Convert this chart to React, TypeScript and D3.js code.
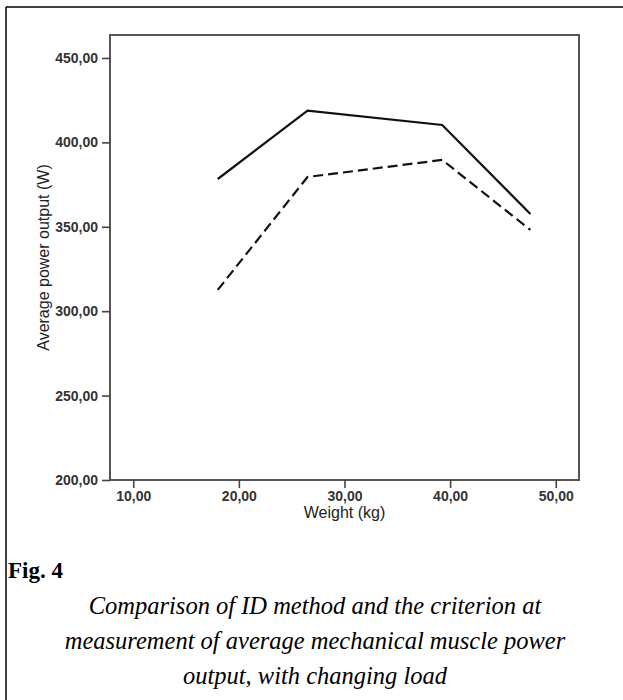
import React, { useEffect, useRef } from "react";
import * as d3 from "d3";

const weights = [18.0, 26.5, 39.25, 47.6];
const idMethod = [378.3, 418.8, 410.3, 357.6];
const criterion = [312.6, 379.5, 389.6, 348.1];
const xTicks = [10, 20, 30, 40, 50];
const yTicks = [200, 250, 300, 350, 400, 450];
const captionLines = [
  "Comparison of ID method and the criterion at",
  "measurement of average mechanical muscle power",
  "output, with changing load",
];

const W = 623;
const H = 700;
const M = { left: 110, right: 579, top: 35, bottom: 480 };

export default function App() {
  const ref = useRef<SVGSVGElement>(null);

  useEffect(() => {
    const svg = d3.select(ref.current);
    svg.selectAll("*").remove();

    const x = d3.scaleLinear().domain([7.8, 52.2]).range([M.left, M.right]);
    const y = d3.scaleLinear().domain([200, 463.6]).range([M.bottom, M.top]);
    const fmt = (v: number) => v.toFixed(2).replace(".", ",");

    // outer frame
    svg.append("line").attr("x1", 6).attr("x2", W).attr("y1", 7).attr("y2", 7)
      .attr("stroke", "#000").attr("stroke-width", 1.5);
    svg.append("line").attr("x1", 6).attr("x2", 6).attr("y1", 7).attr("y2", H)
      .attr("stroke", "#000").attr("stroke-width", 1.5);

    // plot box
    svg.append("rect").attr("x", M.left).attr("y", M.top)
      .attr("width", M.right - M.left).attr("height", M.bottom - M.top)
      .attr("fill", "none").attr("stroke", "#555").attr("stroke-width", 2);

    const yAxis = d3.axisLeft(y).tickValues(yTicks).tickFormat(fmt as any)
      .tickSize(8).tickPadding(4);
    const gy = svg.append("g").attr("transform", `translate(${M.left},0)`).call(yAxis);
    gy.select(".domain").remove();

    const xAxis = d3.axisBottom(x).tickValues(xTicks).tickFormat(fmt as any)
      .tickSize(8).tickPadding(3);
    const gx = svg.append("g").attr("transform", `translate(0,${M.bottom})`).call(xAxis);
    gx.select(".domain").remove();

    [gx, gy].forEach((g) => {
      g.selectAll("line").attr("stroke", "#444").attr("stroke-width", 1.6);
      g.selectAll("text")
        .attr("font-family", "Liberation Sans, Arial, sans-serif")
        .attr("font-size", 14).attr("font-weight", "bold").attr("fill", "#333");
    });

    svg.append("text").attr("x", (M.left + M.right) / 2).attr("y", 518)
      .attr("text-anchor", "middle")
      .attr("font-family", "Liberation Sans, Arial, sans-serif")
      .attr("font-size", 16).attr("fill", "#222").text("Weight (kg)");

    svg.append("text")
      .attr("transform", `translate(49,${(M.top + M.bottom) / 2}) rotate(-90)`)
      .attr("text-anchor", "middle")
      .attr("font-family", "Liberation Sans, Arial, sans-serif")
      .attr("font-size", 16).attr("fill", "#222").text("Average power output (W)");

    const line = d3.line<number>().x((_, i) => x(weights[i])).y((d) => y(d));

    svg.append("path").attr("d", line(idMethod)!).attr("fill", "none")
      .attr("stroke", "#111").attr("stroke-width", 2.2);
    svg.append("path").attr("d", line(criterion)!).attr("fill", "none")
      .attr("stroke", "#111").attr("stroke-width", 2.2).attr("stroke-dasharray", "10,5");

    svg.append("text").attr("x", 8).attr("y", 578)
      .attr("font-family", "Liberation Serif, 'Times New Roman', serif")
      .attr("font-size", 23).attr("font-weight", "bold").attr("fill", "#000").text("Fig. 4");

    captionLines.forEach((t, i) => {
      svg.append("text").attr("x", 315).attr("y", 614 + i * 35)
        .attr("text-anchor", "middle")
        .attr("font-family", "Liberation Serif, 'Times New Roman', serif")
        .attr("font-size", 24.5).attr("font-style", "italic").attr("fill", "#000")
        .text(t);
    });
  }, []);

  return (
    <div style={{ position: "absolute", left: 0, top: 0 }}>
      <svg ref={ref} width={W} height={H} style={{ display: "block", background: "#fff" }} />
    </div>
  );
}
